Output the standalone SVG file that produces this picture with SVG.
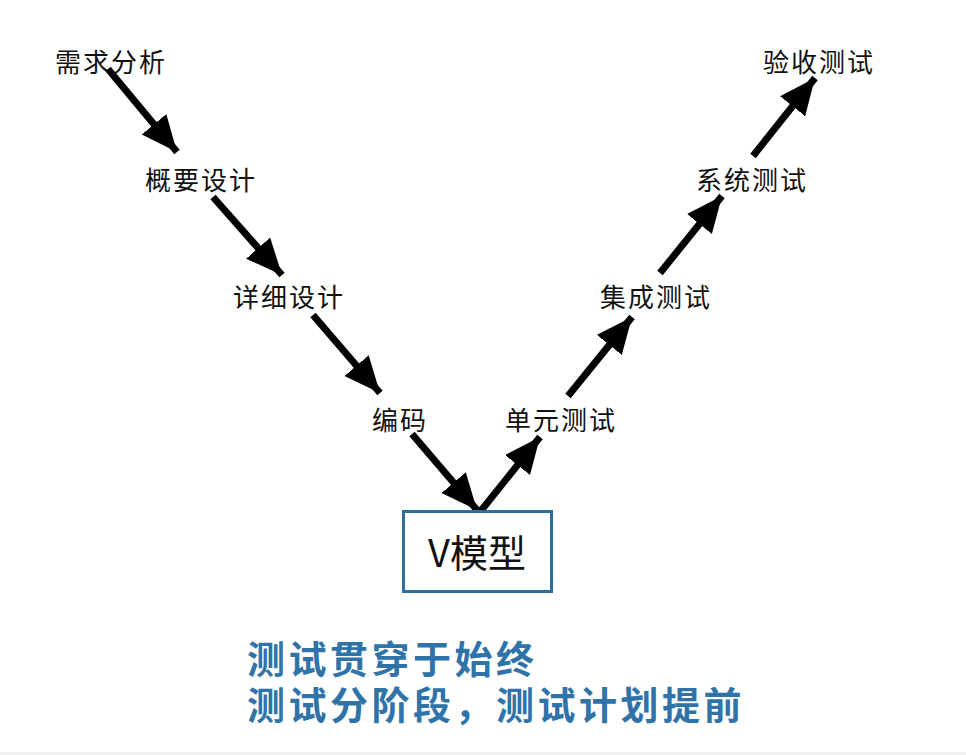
<svg xmlns="http://www.w3.org/2000/svg" width="966" height="755" viewBox="0 0 966 755">
<defs>
<style>
.lbl{font-family:"Noto Sans CJK SC","Noto Sans",sans-serif;font-size:26px;fill:#111;letter-spacing:2px}
.main{font-family:"Noto Sans CJK SC","Noto Sans",sans-serif;font-size:38px;fill:#111}
.note{font-family:"Noto Sans CJK SC","Noto Sans",sans-serif;font-size:38px;font-weight:bold;fill:#2f73a8;letter-spacing:3.5px}
.conn{stroke:#000;stroke-width:7;fill:none;marker-end:url(#ah)}
</style>
<marker id="ah" markerUnits="userSpaceOnUse" markerWidth="40" markerHeight="34" refX="36" refY="16" orient="auto">
<path d="M0,0 L36,16 L0,32 Z" fill="#000"/>
</marker>
</defs>
<rect x="0" y="0" width="966" height="755" fill="#fff"/>
<rect x="0" y="752" width="966" height="3" fill="#f0f0f0"/>
<g id="connectors">
<line class="conn" x1="108" y1="69" x2="177" y2="152"/>
<line class="conn" x1="213" y1="197" x2="282" y2="275"/>
<line class="conn" x1="313" y1="315" x2="380" y2="393"/>
<line class="conn" x1="412" y1="434" x2="477" y2="510"/>
<line class="conn" x1="480" y1="512" x2="540" y2="437"/>
<line class="conn" x1="568" y1="396" x2="632" y2="317"/>
<line class="conn" x1="660" y1="273" x2="722" y2="196"/>
<line class="conn" x1="753" y1="156" x2="815" y2="78"/>
</g>
<g id="n-xqfx"><text class="lbl" x="55" y="72">需求分析</text></g>
<g id="n-gysj"><text class="lbl" x="145" y="190">概要设计</text></g>
<g id="n-xxsj"><text class="lbl" x="233" y="307">详细设计</text></g>
<g id="n-bm"><text class="lbl" x="372" y="430">编码</text></g>
<g id="n-dycs"><text class="lbl" x="505" y="430">单元测试</text></g>
<g id="n-jccs"><text class="lbl" x="600" y="307">集成测试</text></g>
<g id="n-xtcs"><text class="lbl" x="696" y="190">系统测试</text></g>
<g id="n-yscs"><text class="lbl" x="763" y="72">验收测试</text></g>
<g id="n-v">
<rect x="403.5" y="511.5" width="148" height="80" fill="#fff" stroke="#2e6f9e" stroke-width="3"/>
<text class="main" x="477" y="567" text-anchor="middle">V模型</text>
</g>
<g id="notes">
<text class="note" x="247" y="673">测试贯穿于始终</text>
<text class="note" x="247" y="719">测试分阶段，测试计划提前</text>
</g>
</svg>
